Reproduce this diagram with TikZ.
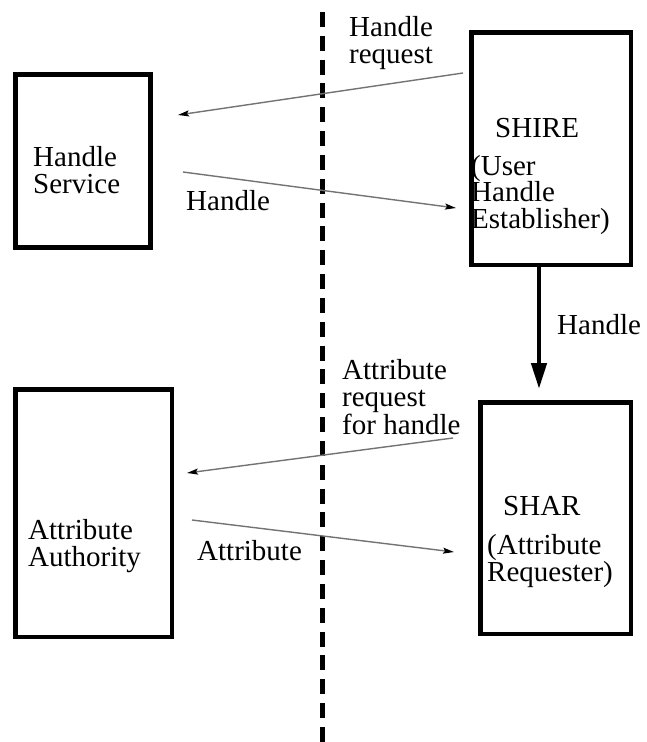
\documentclass[tikz,border=0pt]{standalone}
\usepackage{fontspec}
\setmainfont{Liberation Serif}
\usetikzlibrary{arrows.meta}
\begin{document}
\begin{tikzpicture}[x=1pt,y=-1pt,
  box/.style={draw=black,line width=4.5pt,rectangle,inner sep=0pt},
  txt/.style={anchor=base west,inner sep=0pt,align=left,font=\fontsize{29}{26.5}\selectfont},
  msg/.style={draw=black!55,line width=1.4pt,-{Stealth[length=11pt,width=6pt,inset=2pt,black]}},
  bigarrow/.style={draw=black,line width=4.5pt,-{Triangle[length=26pt,width=15pt]}},
  divider/.style={draw=black,line width=5pt,dash pattern=on 15pt off 8.83pt}]
\useasboundingbox (0,0) rectangle (646,742);
% boxes
\node[box,minimum width=135pt,minimum height=173pt] (hs) at (83,161) {};
\node[box,minimum width=159.5pt,minimum height=232.5pt] (shire) at (551,148.5) {};
\node[box,minimum width=156.5pt,minimum height=247.5pt] (aa) at (93.5,513) {};
\node[box,minimum width=150.5pt,minimum height=231.5pt] (shar) at (555.5,518) {};
% divider
\coordinate (dtop) at (322,12);
\coordinate (dbot) at (322,742);
\draw[divider] (dtop) -- (dbot);
% box texts (anchor = baseline of the last line)
\node[txt] (hst) at (33,193) {Handle\\Service};
\node[txt] (shiret) at (495,137) {SHIRE};
\node[txt] (shired) at (471,228) {(User\\Handle\\Establisher)};
\node[txt] (aat) at (28,566) {Attribute\\Authority};
\node[txt] (shart) at (503,515) {SHAR};
\node[txt] (shard) at (487,581) {(Attribute\\Requester)};
% message arrows
\coordinate (hr1) at (463,73);
\coordinate (hr2) at (178,115);
\coordinate (h1) at (183,172);
\coordinate (h2) at (456,208);
\coordinate (ar1) at (453,438);
\coordinate (ar2) at (187,473);
\coordinate (a1) at (192,520);
\coordinate (a2) at (454,552);
\draw[msg] (hr1) -- (hr2);
\draw[msg] (h1) -- (h2);
\draw[msg] (ar1) -- (ar2);
\draw[msg] (a1) -- (a2);
% vertical arrow
\coordinate (v1) at (539,267);
\coordinate (v2) at (539,389);
\draw[bigarrow] (v1) -- (v2);
% labels
\node[txt] (lhr) at (349,63) {Handle\\request};
\node[txt] (lh) at (186,210) {Handle};
\node[txt] (lv) at (557,334) {Handle};
\node[txt] (lar) at (342,434) {Attribute\\request\\for handle};
\node[txt] (la) at (197,560) {Attribute};
\end{tikzpicture}
\end{document}
